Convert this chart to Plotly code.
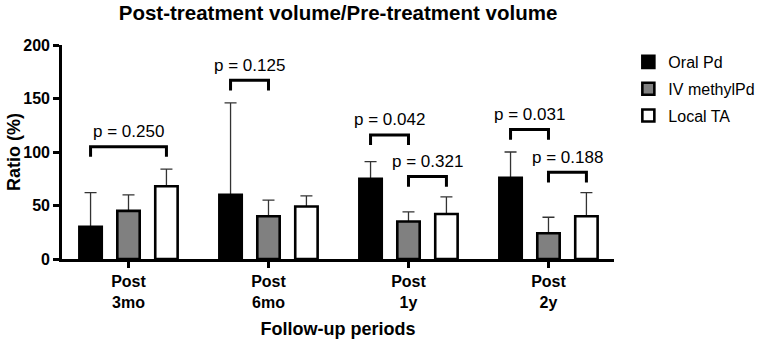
import numpy as np
import plotly.graph_objects as go

# ---- data ----
periods = ["Post<br>3mo", "Post<br>6mo", "Post<br>1y", "Post<br>2y"]
series_names = ["Oral Pd", "IV methylPd", "Local TA"]
oral_pd = [30, 60, 75, 76]
oral_pd_top = [62, 146, 91, 100]
iv_methylpd = [45, 40, 35, 24]
iv_methylpd_top = [60, 55, 44, 39]
local_ta = [68, 49, 42, 40]
local_ta_top = [84, 59, 58, 62]

# brackets: (period index, from series, to series, height, label)
bracket_period = [0, 1, 2, 2, 3, 3]
bracket_from = [0, 0, 0, 1, 0, 1]
bracket_to = [2, 1, 1, 2, 1, 2]
bracket_height = [105, 167, 116, 77, 121, 81]
bracket_label = ["p = 0.250", "p = 0.125", "p = 0.042", "p = 0.321", "p = 0.031", "p = 0.188"]

# ---- styling ----
FONT = "Liberation Sans, Arial, sans-serif"
fills = ["#000000", "#808080", "#ffffff"]
shift = [-0.271, 0.0, 0.271]
bar_w = 0.16
leg = 9.5

means = [oral_pd, iv_methylpd, local_ta]
tops = [oral_pd_top, iv_methylpd_top, local_ta_top]
xg = np.arange(len(periods))

fig = go.Figure()

# error bars (drawn first, then covered by bars)
for i in range(3):
    up = [t - m for t, m in zip(tops[i], means[i])]
    fig.add_trace(go.Bar(
        x=xg + shift[i], y=means[i], width=bar_w,
        marker=dict(color="rgba(0,0,0,0)", line=dict(width=0)),
        error_y=dict(type="data", symmetric=False, array=up,
                     arrayminus=[0] * len(up), color="#333333",
                     thickness=1.3, width=6),
        showlegend=False, hoverinfo="skip"))

for i in range(3):
    fig.add_trace(go.Bar(
        x=xg + shift[i], y=means[i], width=bar_w, name=series_names[i],
        marker=dict(color=fills[i], line=dict(color="#000000", width=2.6)),
        legendgroup=series_names[i]))

for p, a, b, h, lab in zip(bracket_period, bracket_from, bracket_to,
                           bracket_height, bracket_label):
    x0 = p + shift[a]
    x1 = p + shift[b]
    fig.add_shape(type="path",
                  path=f"M {x0},{h - leg} L {x0},{h} L {x1},{h} L {x1},{h - leg}",
                  line=dict(color="#000000", width=3), xref="x", yref="y")
    fig.add_annotation(x=(x0 + x1) / 2, y=h, text=lab, showarrow=False,
                       yanchor="middle", yshift=15,
                       font=dict(family=FONT, size=17, color="#000000"))

# y-axis title
fig.add_annotation(x=-48 / 552, xref="paper", y=0.5, yref="paper",
                   text="<b>Ratio (%)</b>", textangle=-90, showarrow=False,
                   xanchor="center", yanchor="middle",
                   font=dict(family=FONT, size=18, color="#000000"))

fig.update_layout(
    width=765, height=339,
    margin=dict(l=62, r=151, t=45, b=80, autoexpand=False),
    paper_bgcolor="white", plot_bgcolor="white",
    barmode="overlay",
    title=dict(text="<b>Post-treatment volume/Pre-treatment volume</b>",
               x=0.5, xref="paper", y=1 - 13 / 339, yref="container",
               yanchor="middle",
               font=dict(family=FONT, size=20.5, color="#000000")),
    legend=dict(x=1.026, xref="paper", xanchor="left", y=1.0, yanchor="top",
                yref="paper", traceorder="grouped", tracegroupgap=3,
                font=dict(family=FONT, size=16, color="#000000"),
                bgcolor="rgba(0,0,0,0)"),
    showlegend=True,
)
fig.update_xaxes(
    range=[-0.475, 3.468], tickvals=list(xg), ticktext=periods,
    showline=True, linecolor="#000000", linewidth=2.6,
    ticks="outside", ticklen=6, tickwidth=2.6, tickcolor="#000000",
    showgrid=False, zeroline=False, automargin=False,
    tickfont=dict(family=FONT, size=16, color="#000000", weight="bold"),
    title=dict(text="<b>Follow-up periods</b>", standoff=14,
               font=dict(family=FONT, size=18, color="#000000")),
)
fig.update_yaxes(
    range=[0, 200], tickvals=[0, 50, 100, 150, 200],
    showline=True, linecolor="#000000", linewidth=2.6,
    ticks="outside", ticklen=6, tickwidth=2.6, tickcolor="#000000",
    showgrid=False, zeroline=False, automargin=False,
    tickfont=dict(family=FONT, size=16, color="#000000", weight="bold"),
)

fig.write_html("out.html")
